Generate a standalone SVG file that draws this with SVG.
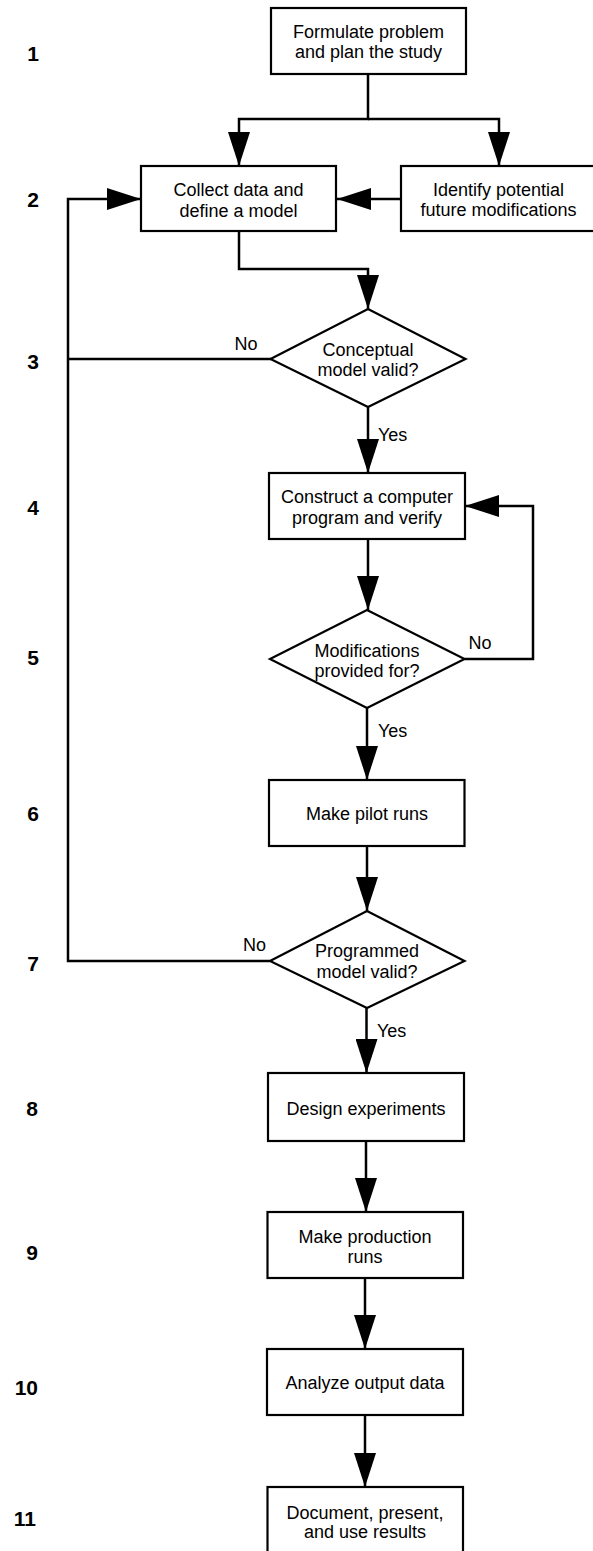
<svg xmlns="http://www.w3.org/2000/svg" width="593" height="1551" viewBox="0 0 593 1551">
  <style>
    .box { fill: #fff; stroke: #000; stroke-width: 2.2; }
    .lbl { font-family: "Liberation Sans", Arial, sans-serif; font-size: 18px; fill: #000; text-anchor: middle; }
    .tag { font-family: "Liberation Sans", Arial, sans-serif; font-size: 18px; fill: #000; }
    .num { font-family: "Liberation Sans", Arial, sans-serif; font-size: 21px; font-weight: bold; fill: #000; text-anchor: end; }
    .wire { fill: none; stroke: #000; stroke-width: 2.5; }
    .arr { marker-end: url(#head); }
  </style>
  <defs>
    <marker id="head" markerUnits="userSpaceOnUse" markerWidth="34" markerHeight="22" refX="34" refY="11" orient="auto">
      <path d="M0 0 L34 11 L0 22 Z" fill="#000"/>
    </marker>
  </defs>
  <rect width="593" height="1551" fill="#fff"/>

  <!-- step numbers -->
  <g id="step-numbers">
    <text class="num" x="39" y="60.5">1</text>
    <text class="num" x="39" y="206.5">2</text>
    <text class="num" x="39" y="368.5">3</text>
    <text class="num" x="39" y="514.5">4</text>
    <text class="num" x="39" y="664.5">5</text>
    <text class="num" x="39" y="820.5">6</text>
    <text class="num" x="39" y="970.5">7</text>
    <text class="num" x="38" y="1115.5">8</text>
    <text class="num" x="38" y="1259.5">9</text>
    <text class="num" x="38" y="1394.5">10</text>
    <text class="num" x="36" y="1525.5">11</text>
  </g>

  <!-- connectors -->
  <g id="connectors">
    <path class="wire arr" d="M368 74 V119 H239 V166"/>
    <path class="wire arr" d="M368 119 H499 V166"/>
    <path class="wire arr" d="M401 199 H337"/>
    <path class="wire arr" d="M239 231 V269 H368 V309"/>
    <path class="wire" d="M271 359 H68"/>
    <path class="wire arr" d="M270 961 H68 V199 H141"/>
    <path class="wire arr" d="M368 407 V473"/>
    <path class="wire arr" d="M368 539 V610"/>
    <path class="wire arr" d="M464.5 659 H533 V506 H465"/>
    <path class="wire arr" d="M367 708 V780"/>
    <path class="wire arr" d="M367 846 V911"/>
    <path class="wire arr" d="M366.5 1008 V1073"/>
    <path class="wire arr" d="M366 1141 V1212"/>
    <path class="wire arr" d="M365 1278 V1349"/>
    <path class="wire arr" d="M365 1415 V1487"/>
    <text class="tag" x="246" y="349.5" text-anchor="middle">No</text>
    <text class="tag" x="378" y="440.5">Yes</text>
    <text class="tag" x="480" y="648.5" text-anchor="middle">No</text>
    <text class="tag" x="378" y="736.5">Yes</text>
    <text class="tag" x="254.5" y="950.5" text-anchor="middle">No</text>
    <text class="tag" x="377" y="1036.5">Yes</text>
  </g>

  <g id="formulate">
    <rect class="box" x="271" y="8" width="195" height="66"/>
    <text class="lbl" x="368.5" y="38">Formulate problem</text>
    <text class="lbl" x="368.5" y="58">and plan the study</text>
  </g>

  <g id="collect">
    <rect class="box" x="141" y="166" width="195" height="65"/>
    <text class="lbl" x="238.5" y="195.5">Collect data and</text>
    <text class="lbl" x="238.5" y="216.5">define a model</text>
  </g>

  <g id="identify">
    <rect class="box" x="401" y="166" width="196" height="65"/>
    <text class="lbl" x="498.5" y="195.5">Identify potential</text>
    <text class="lbl" x="498.5" y="215.5">future modifications</text>
  </g>

  <g id="conceptual-valid">
    <polygon class="box" points="368,309 465.5,359 368,407 270.5,359"/>
    <text class="lbl" x="368" y="356">Conceptual</text>
    <text class="lbl" x="368" y="375.5">model valid?</text>
  </g>

  <g id="construct">
    <rect class="box" x="269" y="473" width="196" height="66"/>
    <text class="lbl" x="367" y="503">Construct a computer</text>
    <text class="lbl" x="367" y="523.5">program and verify</text>
  </g>

  <g id="modifications">
    <polygon class="box" points="367,610 464.5,659 367,708 270,659"/>
    <text class="lbl" x="367" y="656.5">Modifications</text>
    <text class="lbl" x="367" y="676.5">provided for?</text>
  </g>

  <g id="pilot-runs">
    <rect class="box" x="269" y="780" width="195.5" height="66"/>
    <text class="lbl" x="367" y="819.5">Make pilot runs</text>
  </g>

  <g id="programmed-valid">
    <polygon class="box" points="367,911 464.5,961 367,1008 270,961"/>
    <text class="lbl" x="367" y="956.5">Programmed</text>
    <text class="lbl" x="367" y="978">model valid?</text>
  </g>

  <g id="design">
    <rect class="box" x="268" y="1073" width="196" height="68"/>
    <text class="lbl" x="366" y="1114.5">Design experiments</text>
  </g>

  <g id="production">
    <rect class="box" x="267.5" y="1212" width="195.5" height="66"/>
    <text class="lbl" x="365" y="1242.5">Make production</text>
    <text class="lbl" x="365" y="1262.5">runs</text>
  </g>

  <g id="analyze">
    <rect class="box" x="267" y="1349" width="196" height="66"/>
    <text class="lbl" x="365" y="1388.5">Analyze output data</text>
  </g>

  <g id="document">
    <rect class="box" x="267.5" y="1487" width="195.5" height="70"/>
    <text class="lbl" x="365" y="1518.5">Document, present,</text>
    <text class="lbl" x="365" y="1537.5">and use results</text>
  </g>
</svg>
